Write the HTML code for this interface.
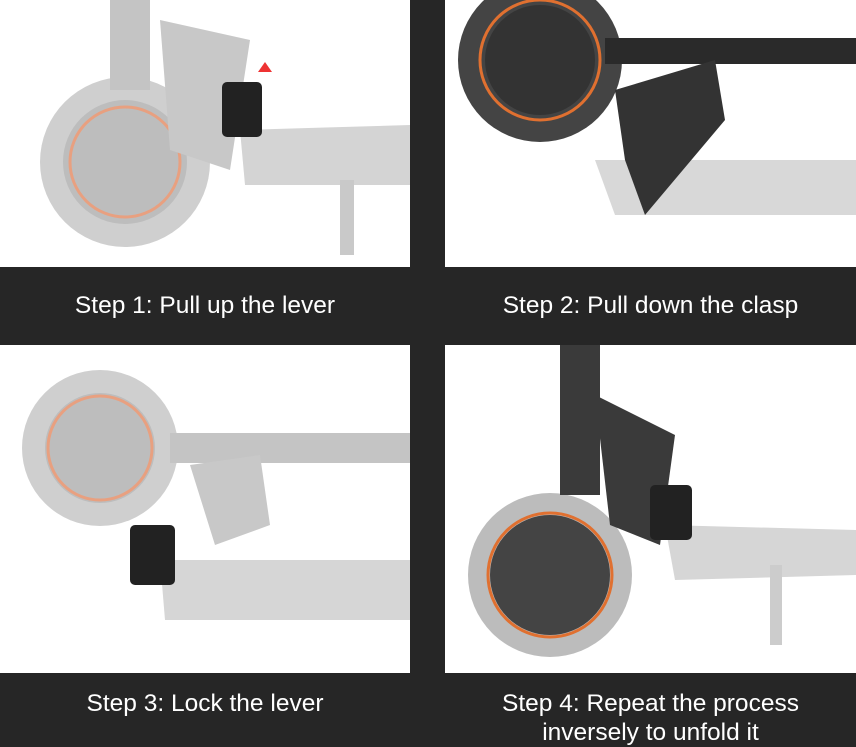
<!DOCTYPE html>
<html><head><style>
body{margin:0;width:856px;height:744px;overflow:hidden;background:#262626;position:relative;font-family:"Liberation Sans",sans-serif}
.p{position:absolute;background:#fff;overflow:hidden}
.c{position:absolute;color:#fff;font-size:24.5px;text-align:center;line-height:29px}
</style></head><body>
<div class="p" style="left:0;top:0;width:410px;height:267px">
<svg width="410" height="267">
<circle cx="125" cy="162" r="85" fill="#cfcfcf"/><circle cx="125" cy="162" r="62" fill="#bdbdbd"/><circle cx="125" cy="162" r="55" fill="none" stroke="#e8a080" stroke-width="3"/>
<rect x="110" y="0" width="40" height="90" fill="#c4c4c4"/><polygon points="160,20 250,40 230,170 170,150" fill="#c8c8c8"/>
<polygon points="240,130 410,125 410,185 245,185" fill="#d4d4d4"/><rect x="340" y="180" width="14" height="75" fill="#c9c9c9"/>
<rect x="222" y="82" width="40" height="55" rx="5" fill="#222"/><polygon points="265,62 272,72 258,72" fill="#e33"/>
</svg></div>
<div class="p" style="left:445px;top:0;width:411px;height:267px">
<svg width="411" height="267">
<polygon points="150,160 411,160 411,215 170,215" fill="#d8d8d8"/>
<circle cx="95" cy="60" r="82" fill="#444"/><circle cx="95" cy="60" r="55" fill="#333"/><circle cx="95" cy="60" r="60" fill="none" stroke="#e07030" stroke-width="3"/>
<rect x="160" y="38" width="251" height="26" fill="#2a2a2a"/><polygon points="170,90 270,60 280,120 200,215 180,160" fill="#333"/>
</svg></div>
<div class="p" style="left:0;top:345px;width:410px;height:328px">
<svg width="410" height="328">
<polygon points="160,215 410,215 410,275 165,275" fill="#d6d6d6"/>
<circle cx="100" cy="103" r="78" fill="#cfcfcf"/><circle cx="100" cy="103" r="55" fill="#bdbdbd"/><circle cx="100" cy="103" r="52" fill="none" stroke="#e8a080" stroke-width="3"/>
<rect x="170" y="88" width="240" height="30" fill="#c4c4c4"/><polygon points="190,120 260,110 270,180 215,200" fill="#c8c8c8"/>
<rect x="130" y="180" width="45" height="60" rx="5" fill="#222"/>
</svg></div>
<div class="p" style="left:445px;top:345px;width:411px;height:328px">
<svg width="411" height="328">
<polygon points="220,180 411,185 411,230 230,235" fill="#d6d6d6"/><rect x="325" y="220" width="12" height="80" fill="#ccc"/>
<circle cx="105" cy="230" r="82" fill="#bcbcbc"/><circle cx="105" cy="230" r="60" fill="#444"/><circle cx="105" cy="230" r="62" fill="none" stroke="#e07030" stroke-width="3"/>
<rect x="115" y="0" width="40" height="150" fill="#3a3a3a"/><polygon points="150,50 230,90 215,200 165,180" fill="#3a3a3a"/>
<rect x="205" y="140" width="42" height="55" rx="5" fill="#222"/>
</svg></div>
<div class="c" style="left:0;width:410px;top:291px">Step 1: Pull up the lever</div>
<div class="c" style="left:445px;width:411px;top:291px">Step 2: Pull down the clasp</div>
<div class="c" style="left:0;width:410px;top:689px">Step 3: Lock the lever</div>
<div class="c" style="left:445px;width:411px;top:689px">Step 4: Repeat the process<br>inversely to unfold it</div>
</body></html>
